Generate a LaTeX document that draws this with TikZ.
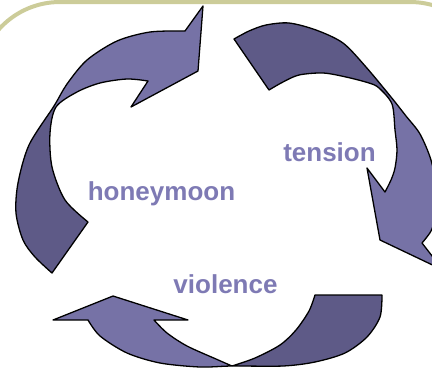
\documentclass[tikz,border=0pt]{standalone}
\usepackage{fontspec}
\setsansfont{Liberation Sans}
\definecolor{lightA}{HTML}{7672A6}
\definecolor{darkA}{HTML}{5E5A87}
\definecolor{txt}{HTML}{7E7AB4}
\definecolor{framecol}{RGB}{204,204,153}
\def\pathA{plot[smooth] coordinates {(52,273) (35,257) (23,240) (16,213) (18,183) (29,145) (54,106) (67,84) (87,60) (117,41) (150,32) (185,31)}
  -- (203,6) -- (198,71) -- (131,107)
  -- plot[smooth] coordinates {(148,81) (127,79) (100,83) (77,92) (56,107) (50,133) (52,167) (65,200) (88,222)} -- cycle}
\def\pathB{plot[smooth] coordinates {(234,39) (249,31) (266,25) (289,23) (316,30) (343,43) (366,67) (391,97) (406,116) (420,134) (431,160) (437,190) (436,215) (431,231) (422,243)}
  -- (443,270) -- (380,240) -- (367,168)
  -- plot[smooth] coordinates {(385,192) (391,180) (395,168) (397,150) (395,130) (392,104) (379,88) (369,83) (346,77) (323,73) (299,75) (283,82) (269,90)} -- cycle}
\def\pathC{plot[smooth] coordinates {(382,295) (380,317) (367,337) (345,353) (315,362) (283,366) (232,366) (200,367) (160,363) (127,353) (100,336) (88,320)}
  -- (53,320) -- (113,296) -- (188,320)
  -- plot[smooth] coordinates {(154,320) (167,333) (187,346) (216,359) (232,366)}
  -- plot[smooth] coordinates {(232,366) (255,358) (280,345) (296,330) (309,311) (315,295)} -- cycle}
\begin{document}
\begin{tikzpicture}[x=1pt,y=-1pt,
  band/.style={draw=black, line width=1.3pt, line join=round},
  lab/.style={font=\sffamily\bfseries\fontsize{26}{30}\selectfont, text=txt, anchor=base, inner sep=0pt}]
\useasboundingbox (0,0) rectangle (432,373);
\begin{scope}
\clip (0,0) rectangle (432,373);
\draw[framecol, line width=4pt, rounded corners=82pt] (-22,2) rectangle (492,420);
% honeymoon arrow
\fill[lightA] \pathA;
\begin{scope}
  \clip (-116,2) -- (309,262) -- (309,400) -- (-116,400) -- cycle;
  \fill[darkA] \pathA;
\end{scope}
\draw[band] \pathA;
% tension arrow
\fill[lightA] \pathB;
\begin{scope}
  \clip (151,277) -- (631,-83) -- (0,-83) -- (0,277) -- cycle;
  \fill[darkA] \pathB;
\end{scope}
\draw[band] \pathB;
% violence arrow
\fill[lightA] \pathC;
\begin{scope}
  \clip (232,0) rectangle (500,400);
  \fill[darkA] \pathC;
\end{scope}
\draw[band] \pathC;
\end{scope}
\node[lab] (hm) at (161.5,200) {honeymoon};
\node[lab] (tn) at (329.5,161) {tension};
\node[lab] (vl) at (225.5,293) {violence};
\end{tikzpicture}
\end{document}
